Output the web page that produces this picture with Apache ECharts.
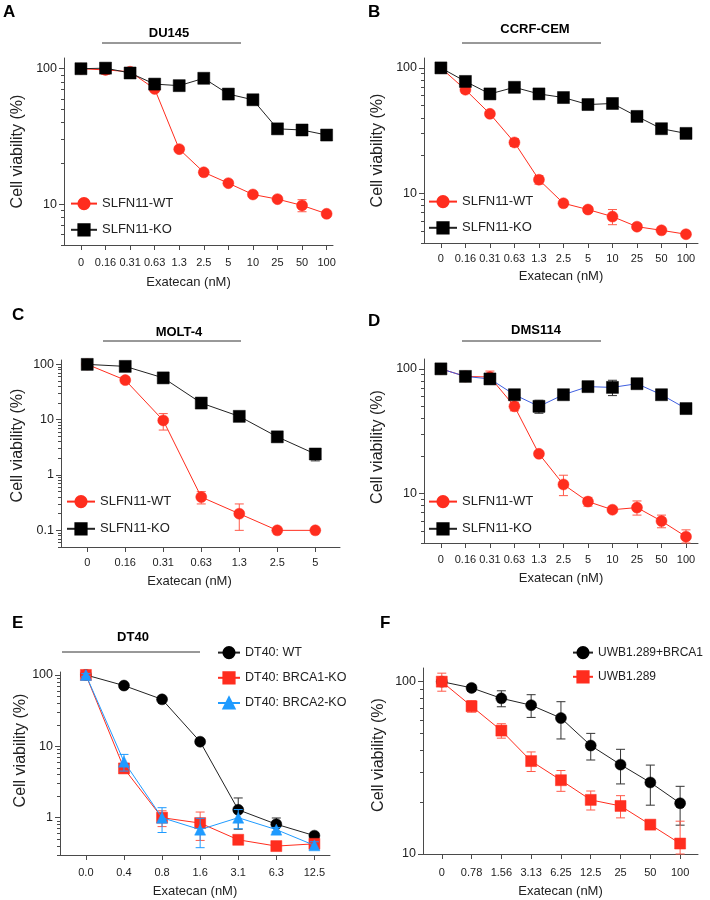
<!DOCTYPE html>
<html><head><meta charset="utf-8">
<script src="https://cdn.jsdelivr.net/npm/echarts@6/dist/echarts.min.js"></script>
<style>html,body{margin:0;padding:0;background:#fff}#c{width:710px;height:900px}</style>
</head><body><div id="c"></div>
<script>
// ---------- data ----------
const dose11 = ['0','0.16','0.31','0.63','1.3','2.5','5','10','25','50','100'];
const dose7C = ['0','0.16','0.31','0.63','1.3','2.5','5'];
const doseE = ['0.0','0.4','0.8','1.6','3.1','6.3','12.5'];
const doseF = ['0','0.78','1.56','3.13','6.25','12.5','25','50','100'];

const yTicksAB = [10, 100];
const yTicksC = [0.1, 1, 10, 100];
const yTicksE = [1, 10, 100];
const yTicksF = [10, 100];

// A: DU145
const aWT    = [100, 98, 95, 71, 25.5, 17.2, 14.3, 11.8, 10.9, 9.8, 8.5];
const aWTerr = [2, 7, 4, 3, 1, 0.8, 0.5, 0.4, 0.4, 1.0, 0.4];
const aKO    = [100, 101, 93, 77, 75, 85, 65, 59, 36, 35.3, 32.4];
const aKOerr = [2, 3, 4, 3, 6, 4, 3, 3, 2, 2, 2];
// B: CCRF-CEM
const bWT    = [100, 67, 43, 25.4, 12.8, 8.3, 7.4, 6.5, 5.4, 5.05, 4.7];
const bWTerr = [2, 4, 2, 1.8, 1, 0.4, 0.4, 0.9, 0.25, 0.2, 0.2];
const bKO    = [100, 78, 62, 70, 62, 58, 51, 52, 41, 32.7, 30];
const bKOerr = [2, 3, 3, 3, 2, 2, 2, 2, 2, 2, 2];
// C: MOLT-4
const cWT    = [100, 52, 9.7, 0.4, 0.2, 0.1, 0.1];
const cWTerr = [3, 6, 3.2, 0.1, 0.1, 0, 0];
const cKO    = [100, 92, 57, 20, 11.5, 4.9, 2.4];
const cKOerr = [3, 4, 5, 2, 1, 0.4, 0.6];
// D: DMS114
const dWT    = [100, 87, 86, 50, 20.8, 11.8, 8.6, 7.4, 7.7, 6.0, 4.5];
const dWTerr = [2, 3, 10, 4, 1, 2.2, 0.7, 0.3, 1.0, 0.7, 0.6];
const dKO    = [100, 87, 83, 62, 50, 62, 72, 71, 76, 62, 48];
const dKOerr = [2, 3, 4, 3, 6, 3, 3, 10, 5, 4, 2];
// E: DT40
const eWT     = [100, 71, 45.5, 11.6, 1.29, 0.81, 0.56];
const eWTerr  = [3, 3, 2, 0.6, 0.6, 0.18, 0.05];
const eB1     = [100, 4.9, 1.0, 0.84, 0.49, 0.40, 0.43];
const eB1err  = [5, 0.5, 0.25, 0.36, 0.04, 0.03, 0.03];
const eB2     = [100, 6.1, 1.0, 0.68, 1.0, 0.68, 0.41];
const eB2err  = [5, 1.6, 0.38, 0.3, 0.3, 0.05, 0.05];
// F: UWB1.289
const fRes    = [100, 92, 80, 73, 61.5, 42.6, 33, 26, 19.7];
const fResErr = [3, 4, 8.5, 11, 15, 7.5, 7.5, 6.8, 5];
const fUwb    = [100, 72, 52, 34.6, 26.8, 20.6, 19, 14.8, 11.5];
const fUwbErr = [12, 5.5, 5, 4.5, 3.7, 2.6, 2.8, 0.8, 4];

// ---------- styling ----------
const FONT = "'Liberation Sans', Arial, Helvetica, sans-serif";
const RED = '#ff2d1e', RED_ERR = '#ff5a4a', BLK = '#000000', TRI = '#1f9bff', BLINE = '#3f5fe0';
const AX = '#4a4a4a';

const panels = [
  {letter:'A', lx:3, ly:4, title:'DU145', tx:169, ty:33, l1:102, l2:241, ly2:43,
   grid:{left:64, top:58, width:269, height:187}, x:[-0.69,10.26], y:[5,120], cats:dose11, ymaj:yTicksAB,
   xGap:31, xPad:20, lblM:12, yGap:38, yPad:0,
   legend:{left:70, top:197, w:26, gap:13, fs:13},
   series:[
     {name:'SLFN11-WT', d:aWT, e:aWTerr, sym:'circle', size:11, c:RED, lc:RED, ec:RED_ERR},
     {name:'SLFN11-KO', d:aKO, e:aKOerr, sym:'rect', size:12, c:BLK, lc:'#222', ec:'#333'}]},
  {letter:'B', lx:368, ly:4, title:'CCRF-CEM', tx:535, ty:29, l1:462, l2:601, ly2:43,
   grid:{left:424, top:58, width:274, height:185}, x:[-0.69,10.49], y:[4,120], cats:dose11, ymaj:yTicksAB,
   xGap:27, xPad:0, lblM:10, yGap:38, yPad:0,
   legend:{left:428, top:195, w:28, gap:13, fs:13},
   series:[
     {name:'SLFN11-WT', d:bWT, e:bWTerr, sym:'circle', size:11, c:RED, lc:RED, ec:RED_ERR},
     {name:'SLFN11-KO', d:bKO, e:bKOerr, sym:'rect', size:12, c:BLK, lc:'#222', ec:'#333'}]},
  {letter:'C', lx:12, ly:307, title:'MOLT-4', tx:179, ty:332, l1:103, l2:241, ly2:341,
   grid:{left:61, top:360, width:279, height:187}, x:[-0.69,6.65], y:[0.05,120], cats:dose7C, ymaj:yTicksC,
   xGap:28, xPad:22, lblM:10, yGap:35, yPad:16,
   legend:{left:66, top:495, w:28, gap:14, fs:13},
   series:[
     {name:'SLFN11-WT', d:cWT, e:cWTerr, sym:'circle', size:11, c:RED, lc:RED, ec:RED_ERR},
     {name:'SLFN11-KO', d:cKO, e:cKOerr, sym:'rect', size:12, c:BLK, lc:'#222', ec:'#333'}]},
  {letter:'D', lx:368, ly:313, title:'DMS114', tx:536, ty:330, l1:462, l2:601, ly2:341,
   grid:{left:424, top:359, width:274, height:184}, x:[-0.69,10.49], y:[4,120], cats:dose11, ymaj:yTicksAB,
   xGap:29, xPad:0, lblM:11, yGap:38, yPad:8,
   legend:{left:428, top:495, w:28, gap:14, fs:13},
   series:[
     {name:'SLFN11-WT', d:dWT, e:dWTerr, sym:'circle', size:11, c:RED, lc:RED, ec:RED_ERR},
     {name:'SLFN11-KO', d:dKO, e:dKOerr, sym:'rect', size:12, c:BLK, lc:BLINE, ec:'#333'}]},
  {letter:'E', lx:12, ly:615, title:'DT40', tx:133, ty:637, l1:62, l2:200, ly2:652,
   grid:{left:60, top:672, width:270, height:183}, x:[-0.68,6.41], y:[0.3,110], cats:doseE, ymaj:yTicksE,
   xGap:30, xPad:0, lblM:12, yGap:30, yPad:26,
   legend:{left:217, top:646, w:22, gap:12, fs:12.5},
   series:[
     {name:'DT40: WT', d:eWT, e:eWTerr, sym:'circle', size:11, c:BLK, lc:'#222', ec:'#333'},
     {name:'DT40: BRCA1-KO', d:eB1, e:eB1err, sym:'rect', size:11, c:RED, lc:RED, ec:RED_ERR},
     {name:'DT40: BRCA2-KO', d:eB2, e:eB2err, sym:'triangle', size:11, c:TRI, lc:TRI, ec:TRI}]},
  {letter:'F', lx:380, ly:615, title:null,
   grid:{left:423, top:668, width:275, height:186}, x:[-0.63,8.6], y:[10,120], cats:doseF, ymaj:yTicksF,
   xGap:31, xPad:0, lblM:13, yGap:36, yPad:12,
   legend:{left:572, top:646, w:20, gap:11, fs:12},
   series:[
     {name:'UWB1.289+BRCA1', d:fRes, e:fResErr, sym:'circle', size:11, c:BLK, lc:'#222', ec:'#333'},
     {name:'UWB1.289', d:fUwb, e:fUwbErr, sym:'rect', size:11, c:RED, lc:RED, ec:RED_ERR}]}
];

function minorTicks(min, max) {
  const out = [];
  for (let e = -3; e <= 3; e++) {
    const p = Math.pow(10, e);
    for (let m = 2; m <= 9; m++) {
      const v = +(m * p).toPrecision(4);
      if (v >= min * 0.999 && v <= max * 1.001) out.push(v);
    }
  }
  return out;
}

function errItem(color) {
  return function (params, api) {
    const x = api.value(0), lo = api.value(1), hi = api.value(2);
    const a = api.coord([x, hi]), b = api.coord([x, lo]);
    const w = 4.5;
    const st = {stroke: color, lineWidth: 1, fill: null};
    return {type: 'group', children: [
      {type: 'line', shape: {x1: a[0], y1: a[1], x2: b[0], y2: b[1]}, style: st},
      {type: 'line', shape: {x1: a[0] - w, y1: a[1], x2: a[0] + w, y2: a[1]}, style: st},
      {type: 'line', shape: {x1: b[0] - w, y1: b[1], x2: b[0] + w, y2: b[1]}, style: st}
    ]};
  };
}

const option = {animation: false, backgroundColor: '#fff', textStyle: {fontFamily: FONT},
  grid: [], xAxis: [], yAxis: [], series: [], legend: [], graphic: []};

panels.forEach((p, i) => {
  option.grid.push(Object.assign({containLabel: false}, p.grid));
  const idx = p.cats.map((_, k) => k);
  option.xAxis.push({
    type: 'value', gridIndex: i, min: p.x[0], max: p.x[1], position: 'bottom',
    name: 'Exatecan (nM)', nameLocation: 'middle', nameGap: p.xGap,
    nameTextStyle: {fontSize: 13, color: '#222', fontFamily: FONT, padding: [0, p.xPad, 0, 0]},
    axisLine: {show: true, onZero: false, lineStyle: {color: AX, width: 1}},
    axisTick: {show: true, inside: false, length: 5, customValues: idx, lineStyle: {color: AX}},
    axisLabel: {customValues: idx, margin: p.lblM, fontSize: 11, color: '#222', fontFamily: FONT,
      formatter: v => p.cats[Math.round(v)]},
    splitLine: {show: false}
  });
  option.yAxis.push({
    type: 'log', gridIndex: i, min: p.y[0], max: p.y[1], logBase: 10, position: 'left',
    name: 'Cell viability (%)', nameLocation: 'middle', nameGap: p.yGap, nameRotate: 90,
    nameTextStyle: {fontSize: 16, color: '#222', fontFamily: FONT, padding: [0, 0, 0, p.yPad]},
    axisLine: {show: true, onZero: false, lineStyle: {color: AX, width: 1}},
    axisTick: {show: true, inside: false, length: 5, customValues: p.ymaj, lineStyle: {color: AX}},
    axisLabel: {customValues: p.ymaj, margin: 7, fontSize: 12.5, color: '#222', fontFamily: FONT,
      formatter: v => String(v)},
    splitLine: {show: false}
  });
  option.yAxis.push({
    type: 'log', gridIndex: i, min: p.y[0], max: p.y[1], logBase: 10, position: 'left', offset: 0,
    axisLine: {show: false, onZero: false},
    axisTick: {show: true, inside: false, length: 3, customValues: minorTicks(p.y[0], p.y[1]), lineStyle: {color: AX}},
    axisLabel: {show: false}, splitLine: {show: false}
  });
  p.series.forEach((s, j) => {
    const errData = [];
    s.d.forEach((v, k) => {
      if (s.e[k] > 0) {
        errData.push([k, Math.max(v - s.e[k], p.y[0]), Math.min(v + s.e[k], p.y[1])]);
      }
    });
    option.series.push({
      type: 'custom', name: 'err-' + p.letter + j, xAxisIndex: i, yAxisIndex: 2 * i,
      renderItem: errItem(s.ec), data: errData, encode: {x: 0, y: [1, 2]}, z: 2 + j * 2, silent: true
    });
    option.series.push({
      type: 'line', name: s.name, xAxisIndex: i, yAxisIndex: 2 * i,
      data: s.d.map((v, k) => [k, v]),
      symbol: s.sym, symbolSize: s.size, showSymbol: true,
      itemStyle: {color: s.c, borderColor: s.c, borderWidth: 0.5, opacity: 1},
      lineStyle: {color: s.lc, width: 1},
      z: 3 + j * 2, silent: true
    });
  });
  option.legend.push({
    orient: 'vertical', left: p.legend.left, top: p.legend.top,
    itemWidth: p.legend.w, itemHeight: 14, itemGap: p.legend.gap,
    selectedMode: false, padding: 0,
    textStyle: {fontSize: p.legend.fs, color: '#222', fontFamily: FONT},
    data: p.series.map(s => s.name)
  });
  option.graphic.push({type: 'text', left: p.lx, top: p.ly,
    style: {text: p.letter, font: 'bold 17px ' + FONT, fill: '#000'}});
  if (p.title) {
    option.graphic.push({type: 'text', x: p.tx, y: p.ty,
      style: {text: p.title, font: 'bold 13px ' + FONT, fill: '#000', align: 'center', verticalAlign: 'middle'}});
    option.graphic.push({type: 'line', shape: {x1: p.l1, y1: p.ly2, x2: p.l2, y2: p.ly2},
      style: {stroke: '#333', lineWidth: 1}});
  }
});

const chart = echarts.init(document.getElementById('c'), null, {renderer: 'canvas'});
chart.setOption(option);
</script>
</body></html>
